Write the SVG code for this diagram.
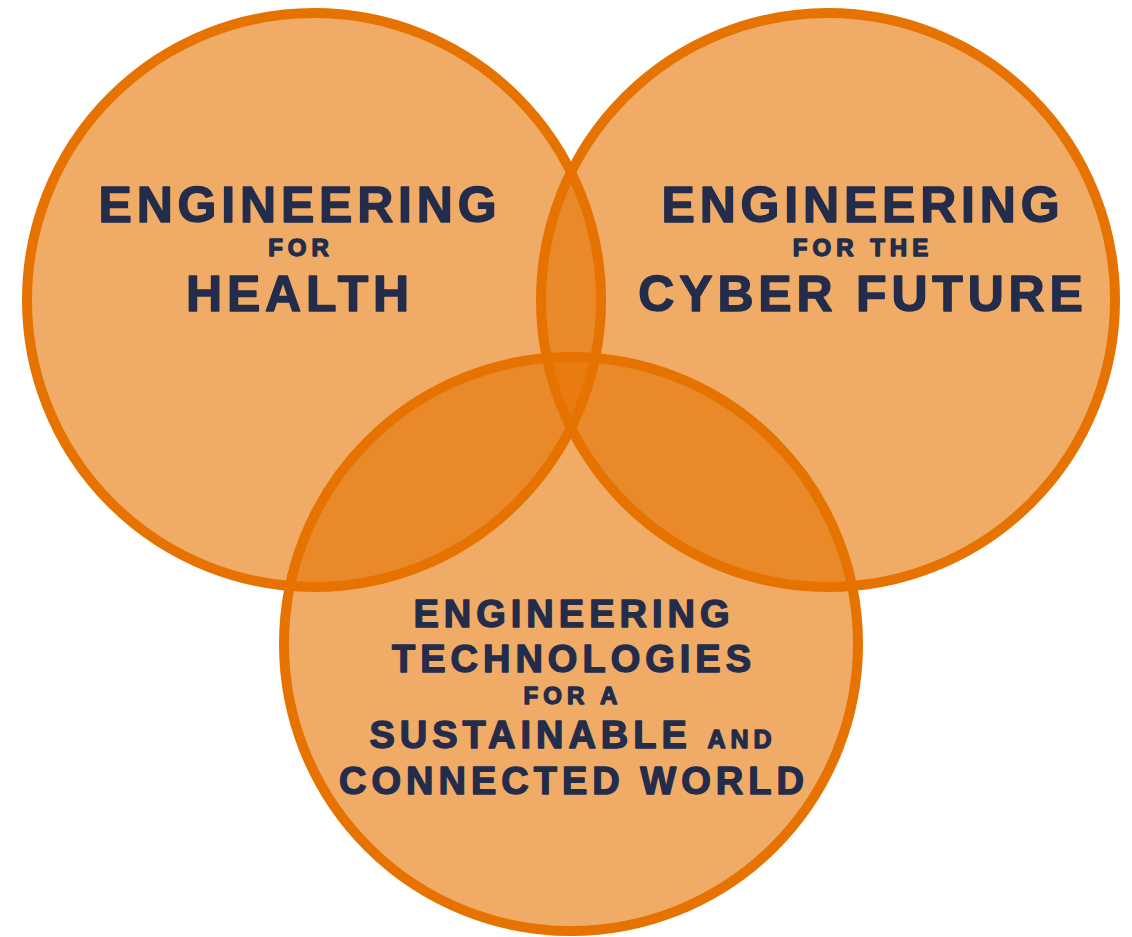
<svg xmlns="http://www.w3.org/2000/svg" width="1132" height="937" viewBox="0 0 1132 937">
<style>
.c{fill:#E67300;fill-opacity:0.6;stroke:#E67300;stroke-width:10}
.t{font-family:"Liberation Sans",Arial,sans-serif;font-weight:bold;fill:#232C4A;stroke:#232C4A;stroke-width:1.4;stroke-linejoin:round;text-anchor:middle}
.b{font-size:50px;letter-spacing:4.8px}
.m{font-size:38px;letter-spacing:5px}
.s{font-size:24px;letter-spacing:5px}
</style>
<rect width="1132" height="937" fill="#ffffff"/>
<g id="health">
<circle class="c" cx="314" cy="300" r="287"/>
<text class="t b" x="300" y="222">ENGINEERING</text>
<text class="t s" x="301" y="256">FOR</text>
<text class="t b" x="300" y="311">HEALTH</text>
</g>
<g id="cyber">
<circle class="c" cx="828" cy="300" r="287"/>
<text class="t b" x="863" y="222">ENGINEERING</text>
<text class="t s" x="863" y="256">FOR THE</text>
<text class="t b" x="863" y="311">CYBER FUTURE</text>
</g>
<g id="sustainable">
<circle class="c" cx="571" cy="644" r="287"/>
<text class="t m" x="574" y="627">ENGINEERING</text>
<text class="t m" x="574" y="672">TECHNOLOGIES</text>
<text class="t s" x="573" y="704">FOR A</text>
<text class="t m" x="573" y="748">SUSTAINABLE <tspan font-size="25px">AND</tspan></text>
<text class="t m" x="574" y="794">CONNECTED WORLD</text>
</g>
<g id="connectors"></g>
</svg>
